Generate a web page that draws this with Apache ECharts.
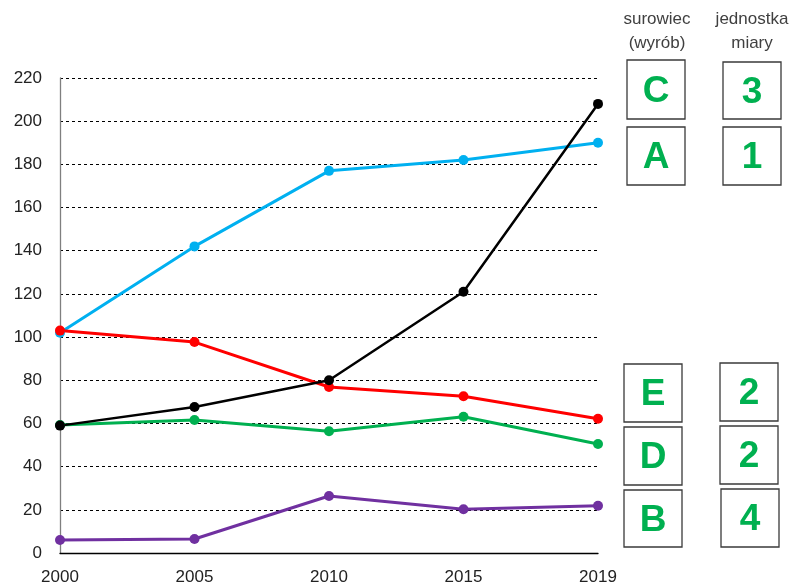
<!DOCTYPE html>
<html><head><meta charset="utf-8">
<script src="https://cdn.jsdelivr.net/npm/echarts@6/dist/echarts.min.js"></script>
<style>html,body{margin:0;padding:0;background:#fff}#c{width:790px;height:587px}</style>
</head><body><div id="c"></div>
<script>
const years = ['2000', '2005', '2010', '2015', '2019'];
const blueSeries = [102, 142, 177, 182, 190];
const blackSeries = [59, 67.6, 80, 121, 208];
const redSeries = [103, 97.7, 76.9, 72.6, 62.2];
const greenSeries = [59.3, 61.6, 56.4, 63.1, 50.5];
const purpleSeries = [6, 6.5, 26.4, 20.3, 21.9];
const yTicks = [0, 20, 40, 60, 80, 100, 120, 140, 160, 180, 200, 220];
const headerLeft = 'surowiec\n(wyrób)';
const headerRight = 'jednostka\nmiary';
const boxLetters = ['C', 'A', 'E', 'D', 'B'];
const boxNumbers = ['3', '1', '2', '2', '4'];

const chart = echarts.init(document.getElementById('c'));
const font = '"Liberation Sans", "DejaVu Sans", sans-serif';
function mk(name, data, color, w) {
  return {
    name, type: 'line', data, symbol: 'circle', symbolSize: 10,
    lineStyle: { color, width: w }, itemStyle: { color },
    animation: false, z: 3
  };
}
// box layout [x, y, w, h]
const leftBoxes = [[627,60,58,59],[627,127,58,58],[624,364,58,58],[624,427,58,58],[624,490,58,57]];
const rightBoxes = [[723,62,58,57],[723,127,58,58],[720,363,58,58],[720,426,58,58],[721,489,58,58]];
const graphics = [];
function box(b, txt) {
  graphics.push({ type: 'rect', shape: { x: b[0], y: b[1], width: b[2], height: b[3] },
    style: { fill: '#fff', stroke: '#3a3a3a', lineWidth: 1.3 } });
  graphics.push({ type: 'text', x: b[0] + b[2] / 2, y: b[1] + b[3] / 2 + 2,
    style: { text: txt, fill: '#00B050', font: 'bold 37px ' + font, align: 'center', verticalAlign: 'middle' } });
}
boxLetters.forEach((t, i) => box(leftBoxes[i], t));
boxNumbers.forEach((t, i) => box(rightBoxes[i], t));
graphics.push({ type: 'text', x: 657, y: 31, style: { text: headerLeft, fill: '#404040', font: '17px ' + font, align: 'center', verticalAlign: 'middle', lineHeight: 24 } });
graphics.push({ type: 'text', x: 752, y: 31, style: { text: headerRight, fill: '#404040', font: '17px ' + font, align: 'center', verticalAlign: 'middle', lineHeight: 24 } });

chart.setOption({
  animation: false,
  grid: { left: 60, right: 192, top: 78, bottom: 34, containLabel: false },
  xAxis: {
    type: 'category', data: years, boundaryGap: false,
    axisLine: { lineStyle: { color: '#000', width: 1.3 } },
    axisTick: { show: false },
    axisLabel: { color: '#222', fontSize: 17, fontFamily: font, margin: 16 },
    splitLine: { show: false }
  },
  yAxis: {
    type: 'value', min: 0, max: 220, interval: 20,
    axisLine: { show: true, lineStyle: { color: '#7f7f7f', width: 1.3 } },
    axisTick: { show: false },
    axisLabel: { color: '#222', fontSize: 17, fontFamily: font, margin: 18,
      formatter: v => yTicks.includes(v) ? String(v) : '' },
    splitLine: { show: true, lineStyle: { color: '#000', type: [3, 3], width: 1 } }
  },
  series: [
    mk('blue', blueSeries, '#00B0F0', 3),
    mk('red', redSeries, '#FF0000', 3),
    mk('green', greenSeries, '#00B050', 3),
    mk('purple', purpleSeries, '#7030A0', 3),
    mk('black', blackSeries, '#000000', 2.5)
  ],
  graphic: graphics
});
</script></body></html>
